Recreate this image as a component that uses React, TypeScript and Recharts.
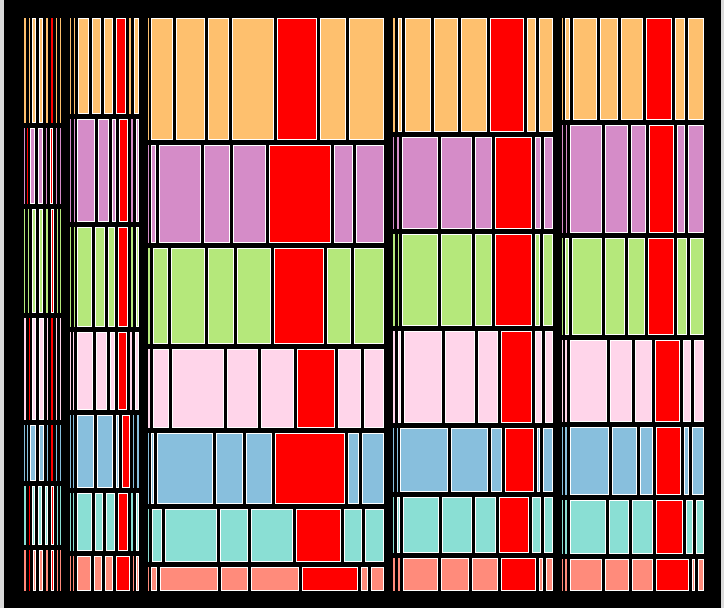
import React from 'react';
import { ComposedChart, XAxis, YAxis, ReferenceArea } from 'recharts';

// Mosaic: 5 groups (columns) x 7 categories (rows) x 8 levels (cells)
const GROUPS = ['G1', 'G2', 'G3', 'G4', 'G5'];
const CATEGORIES = ['A', 'B', 'C', 'D', 'E', 'F', 'G'];
const CATEGORY_COLORS = ['#FEC06E', '#D58CC8', '#B5E87B', '#FFD5EA', '#88BFDD', '#8ADFD4', '#FF8B7B'];
const HIGHLIGHT_COLOR = '#FF0000';

// relative widths of groups
const groupWidths = [46, 78, 245, 168.5, 151];

// relative heights of categories inside each group
const categoryHeights = [
  [110, 81, 109, 107, 61, 64, 46],
  [101, 108, 105, 83, 78, 63, 40],
  [127, 103, 101, 84, 76, 58, 29],
  [119, 97, 97, 97, 69, 61, 37.5],
  [107, 113, 102, 87, 73, 59, 36.5],
];

// relative widths of the 8 levels inside each category, per group
const group1Levels = [
  [5, 3, 7, 7, 5, 5, 4, 4],
  [3, 3, 8, 8, 4, 6, 4, 4],
  [4, 4, 7, 7, 5, 6, 3, 4],
  [5, 3, 7, 8, 4, 5, 4, 4],
  [3, 3, 9, 8, 4, 5, 4, 4],
  [5, 3, 6, 7, 6, 6, 3, 4],
  [5, 4, 6, 7, 5, 6, 3, 4],
];
const group2Levels = [
  [4, 4, 14, 12, 12, 13, 5, 8],
  [4, 3, 21, 14, 7, 12, 5, 6],
  [4, 3, 18, 13, 10, 13, 5, 6],
  [3, 4, 19, 14, 8, 12, 5, 7],
  [3, 4, 20, 19, 6, 11, 4, 5],
  [3, 4, 18, 11, 12, 13, 5, 6],
  [3, 4, 17, 11, 11, 17, 3, 6],
];
const group3Levels = [
  [3, 25, 32, 24, 45, 43, 29, 38],
  [3, 8, 45, 29, 36, 65, 22, 31],
  [5, 18, 37, 29, 37, 53, 27, 33],
  [5, 19, 55, 34, 36, 41, 26, 23],
  [3, 6, 59, 30, 29, 73, 14, 25],
  [4, 13, 55, 31, 45, 48, 21, 22],
  [3, 9, 61, 30, 51, 59, 10, 16],
];
const group4Levels = [
  [5, 7, 29, 27, 29, 37, 12, 16],
  [4, 5, 39, 34, 20, 40, 9, 11],
  [5, 4, 39, 34, 20, 40, 8, 12],
  [5, 6, 41, 33, 23, 34, 10, 10],
  [4, 3, 51, 40, 14, 32, 6, 12],
  [4, 6, 39, 33, 24, 33, 12, 11],
  [5, 5, 38, 31, 29, 38, 7, 9],
];
const group5Levels = [
  [3, 8, 27, 21, 25, 29, 13, 19],
  [4, 5, 34, 26, 18, 28, 11, 19],
  [3, 7, 34, 22, 20, 29, 13, 17],
  [3, 5, 40, 25, 20, 28, 11, 13],
  [3, 5, 42, 28, 17, 28, 7, 15],
  [3, 5, 39, 23, 24, 30, 10, 11],
  [3, 5, 36, 26, 24, 36, 6, 9],
];
const levelsByGroup = [group1Levels, group2Levels, group3Levels, group4Levels, group5Levels];

// highlighted level index, plus extra highlighted cells [group, category, level]
const HIGHLIGHT_LEVEL = 5;
const extraHighlights = [
  [0, 1, 1],
  [0, 3, 1],
  [0, 5, 1],
  [0, 6, 1],
];

const GROUP_PAD = 3; // padding inside each group, same units as groupWidths
const CELL_PAD_X = 1.5;
const CELL_PAD_Y = 2.5;

type Cell = { key: string; x1: number; x2: number; y1: number; y2: number; color: string };

function buildCells(): Cell[] {
  const cells: Cell[] = [];
  let gx = 0;
  GROUPS.forEach((g, gi) => {
    const gStart = gx;
    const gEnd = gx + groupWidths[gi];
    gx = gEnd;
    const inner0 = gStart + GROUP_PAD;
    const innerW = gEnd - GROUP_PAD - inner0;
    const hs = categoryHeights[gi];
    const hTot = hs.reduce((a, b) => a + b, 0);
    let cy = 0;
    CATEGORIES.forEach((c, ci) => {
      const y1 = cy / hTot;
      cy += hs[ci];
      const y2 = cy / hTot;
      const ws = levelsByGroup[gi][ci];
      const wTot = ws.reduce((a, b) => a + b, 0);
      let cx = 0;
      ws.forEach((w, li) => {
        const x1 = inner0 + (cx / wTot) * innerW;
        cx += w;
        const x2 = inner0 + (cx / wTot) * innerW;
        const hl =
          li === HIGHLIGHT_LEVEL || extraHighlights.some((e) => e[0] === gi && e[1] === ci && e[2] === li);
        cells.push({
          key: `${g}-${c}-${li}`,
          x1,
          x2,
          y1,
          y2,
          color: hl ? HIGHLIGHT_COLOR : CATEGORY_COLORS[ci],
        });
      });
    });
  });
  return cells;
}

const TOTAL_X = groupWidths.reduce((a, b) => a + b, 0);
const axisData = [
  { x: 0, y: 0 },
  { x: TOTAL_X, y: 1 },
];

function makeShape(color: string) {
  return (p: any) => {
    const x = Math.min(p.x, p.x + p.width);
    const y = Math.min(p.y, p.y + p.height);
    const w = Math.abs(p.width);
    const h = Math.abs(p.height);
    const l = Math.round(x + CELL_PAD_X);
    let r = Math.round(x + w - CELL_PAD_X);
    const t = Math.round(y + CELL_PAD_Y);
    const b = Math.round(y + h - CELL_PAD_Y);
    if (r - l < 1) r = l + 1;
    const vw = r - l;
    const vh = b - t;
    if (vw >= 3) {
      return (
        <rect x={l + 0.5} y={t + 0.5} width={vw - 1} height={vh - 1} fill={color} stroke="#FFFFFF" strokeWidth={1} />
      );
    }
    return <rect x={l} y={t} width={vw} height={vh} fill={color} stroke="none" />;
  };
}

export default function App() {
  const cells = buildCells();
  return (
    <div style={{ position: 'absolute', left: 0, top: 0, width: 724, height: 608, background: '#dadada', overflow: 'hidden' }}>
      <div style={{ position: 'absolute', left: 4, top: 0, width: 717, height: 608, background: '#000000' }}>
        <ComposedChart
          width={717}
          height={608}
          data={axisData}
          margin={{ top: 15.5, right: 13, bottom: 14.5, left: 15.5 }}
        >
          <XAxis type="number" dataKey="x" domain={[0, TOTAL_X]} hide allowDataOverflow />
          <YAxis type="number" dataKey="y" domain={[0, 1]} reversed hide allowDataOverflow />
          {cells.map((c) => (
            <ReferenceArea
              key={c.key}
              x1={c.x1}
              x2={c.x2}
              y1={c.y1}
              y2={c.y2}
              ifOverflow="visible"
              shape={makeShape(c.color)}
            />
          ))}
        </ComposedChart>
      </div>
    </div>
  );
}
